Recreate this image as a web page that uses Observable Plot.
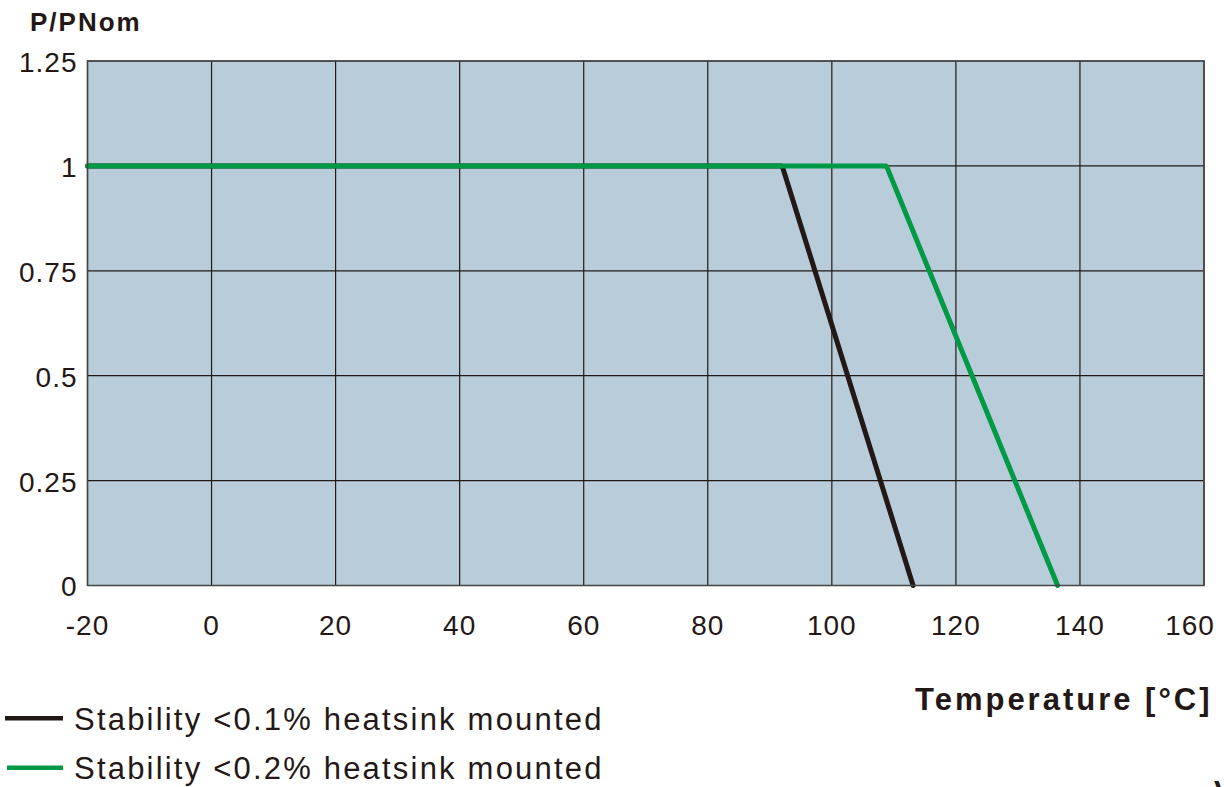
<!DOCTYPE html>
<html>
<head>
<meta charset="utf-8">
<script src="https://cdn.jsdelivr.net/npm/d3@7"></script>
<script src="https://cdn.jsdelivr.net/npm/@observablehq/plot@0.6"></script>
<style>
  html, body { margin: 0; padding: 0; background: #fff; }
  #wrap { position: relative; width: 1224px; height: 787px; overflow: hidden; font-family: "Liberation Sans", Arial, Helvetica, sans-serif; color: #231815; }
  #wrap svg text { letter-spacing: 1px; }
  .lbl { position: absolute; line-height: 1; white-space: nowrap; }
  .ylab { left: 30px; top: 9px; font-size: 26px; font-weight: bold; letter-spacing: 2px; }
  .xlab { left: 915px; top: 684px; font-size: 31px; font-weight: bold; letter-spacing: 3px; }
  .leg { font-size: 31px; letter-spacing: 2.2px; left: 74px; }
  .cut { left: 1214px; top: 776px; font-size: 30px; font-weight: bold; }
  #legsvg { position: absolute; left: 0; top: 0; }
</style>
</head>
<body>
<div id="wrap"></div>
<script>
// ---- data ----
const xTicks = [-20, 0, 20, 40, 60, 80, 100, 120, 140, 160];
const yTicks = [0, 0.25, 0.5, 0.75, 1, 1.25];
const seriesNames = ["Stability <0.1% heatsink mounted", "Stability <0.2% heatsink mounted"];
const seriesColors = ["#231815", "#009a46"];
const temps01 = [-20, 92, 113.1];
const power01 = [1, 1, 0];
const temps02 = [-20, 108.8, 136.4];
const power02 = [1, 1, 0];

const rows = [
  ...temps01.map((t, i) => ({temp: t, p: power01[i], s: seriesNames[0]})),
  ...temps02.map((t, i) => ({temp: t, p: power02[i], s: seriesNames[1]}))
];

const ink = "#231815";
const lastTick = xTicks[xTicks.length - 1];
const chart = Plot.plot({
  width: 1224,
  height: 787,
  marginLeft: 87,
  marginRight: 20.5,
  marginTop: 60.5,
  marginBottom: 202,
  style: {fontFamily: '"Liberation Sans", Arial, sans-serif', color: ink, background: "transparent", overflow: "visible"},
  x: {domain: [-20, 160], ticks: xTicks},
  y: {domain: [0, 1.25], ticks: yTicks},
  color: {domain: seriesNames, range: seriesColors},
  marks: [
    Plot.frame({fill: "#b8cdd9"}),
    Plot.gridX(xTicks, {stroke: ink, strokeOpacity: 1, strokeWidth: 1.2}),
    Plot.gridY(yTicks, {stroke: ink, strokeOpacity: 1, strokeWidth: 1.2}),
    Plot.line(rows.filter(d => d.s === seriesNames[0]), {x: "temp", y: "p", stroke: seriesColors[0], strokeWidth: 5, strokeLinejoin: "miter"}),
    Plot.line(rows.filter(d => d.s === seriesNames[1]), {x: "temp", y: "p", stroke: seriesColors[1], strokeWidth: 5, strokeLinejoin: "miter"}),
    Plot.frame({stroke: "#444", strokeWidth: 1.5}),
    Plot.axisX(xTicks.slice(0, -1), {tickSize: 0, tickPadding: 30, fontSize: 28, label: null, tickFormat: d => String(d), fill: ink}),
    Plot.axisX([lastTick], {tickSize: 0, tickPadding: 30, fontSize: 28, label: null, tickFormat: d => String(d), fill: ink, dx: -14}),
    Plot.axisY(yTicks, {tickSize: 0, tickPadding: 10, fontSize: 28, label: null, tickFormat: d => String(d), fill: ink, dy: 2})
  ]
});

const wrap = document.getElementById("wrap");
chart.style.position = "absolute";
chart.style.left = "0px";
chart.style.top = "0px";
wrap.appendChild(chart);

function addLabel(cls, text) {
  const d = document.createElement("div");
  d.className = "lbl " + cls;
  d.textContent = text;
  wrap.appendChild(d);
  return d;
}
addLabel("ylab", "P/PNom");
addLabel("xlab", "Temperature [°C]");

// legend
const legTops = [704, 753];
const legLineY = [718.3, 767.7];
const legLineX0 = [5, 7];
const svgNS = "http://www.w3.org/2000/svg";
const lsvg = document.createElementNS(svgNS, "svg");
lsvg.setAttribute("id", "legsvg");
lsvg.setAttribute("width", 1224);
lsvg.setAttribute("height", 787);
seriesNames.forEach((name, i) => {
  const ln = document.createElementNS(svgNS, "line");
  ln.setAttribute("x1", legLineX0[i]);
  ln.setAttribute("x2", 63);
  ln.setAttribute("y1", legLineY[i]);
  ln.setAttribute("y2", legLineY[i]);
  ln.setAttribute("stroke", seriesColors[i]);
  ln.setAttribute("stroke-width", 4.5);
  lsvg.appendChild(ln);
});
wrap.appendChild(lsvg);
seriesNames.forEach((name, i) => {
  const d = addLabel("leg", name);
  d.style.top = legTops[i] + "px";
});
addLabel("cut", "V");
</script>
</body>
</html>
